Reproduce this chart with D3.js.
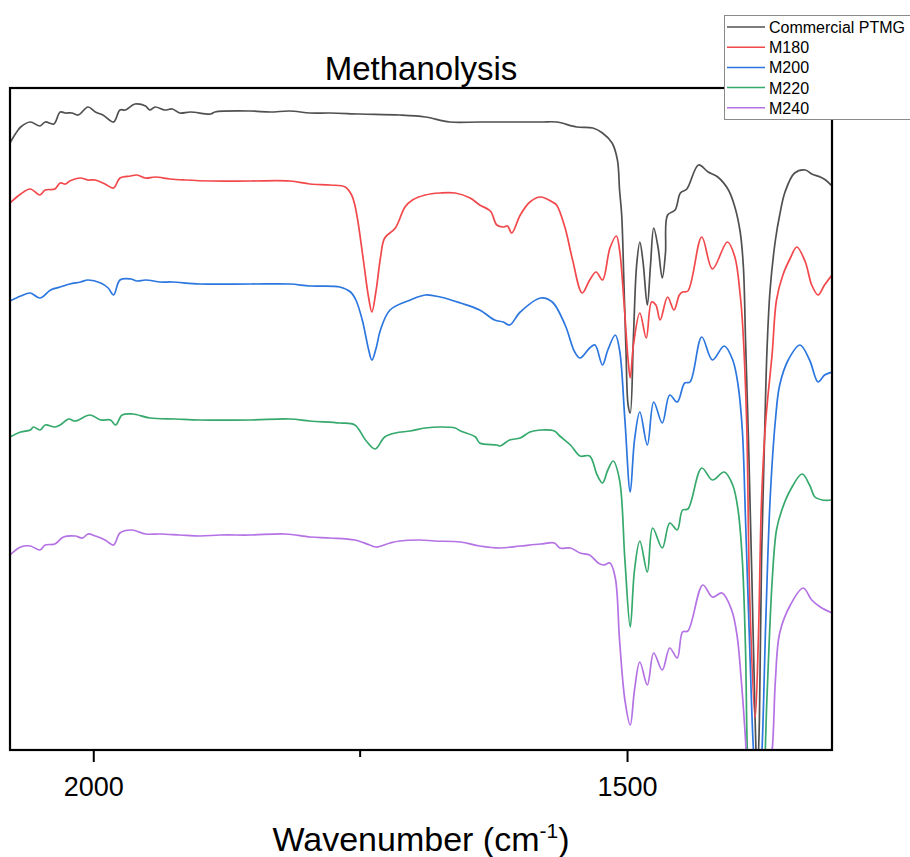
<!DOCTYPE html>
<html>
<head>
<meta charset="utf-8">
<script src="https://cdn.jsdelivr.net/npm/d3@7"></script>
<style>
    body { margin: 0; background: #fff; }
    text { font-family: Arial, "Liberation Sans", sans-serif; fill: #000; }
    .legendText { font-size: 16px; }
</style>
</head>
<body>
<script>
// offset transmittance (a.u.), [wavenumber, value]
var ptmg = [[2078, 60.7], [2073, 61.6], [2068, 62.3], [2059, 62.8], [2050, 62.4], [2045, 62.8], [2037, 62.6],
    [2031, 63.8], [2026, 63.7], [2020, 63.7], [2014, 63.5], [2005, 64.3], [1998, 63.8], [1991, 63.5], [1981, 62.8],
    [1975, 64.0], [1970, 64.0], [1961, 64.6], [1951, 64.4], [1947, 64.0], [1942, 64.3], [1933, 64.0], [1926, 64.1],
    [1919, 63.7], [1909, 63.8], [1890, 63.6], [1886, 63.8], [1853, 63.9], [1834, 63.8], [1816, 63.9], [1797, 63.7],
    [1778, 63.7], [1750, 63.6], [1713, 63.5], [1689, 63.3], [1666, 62.8], [1638, 62.8], [1581, 62.8], [1566, 62.8],
    [1547, 62.3], [1532, 62.2], [1523, 61.7], [1514, 60.7], [1509, 59.0], [1507, 56.0], [1505, 53.5], [1503, 47.0],
    [1501, 40.0], [1499, 34.5], [1497, 33.7], [1494, 41.3], [1491, 48.5], [1488, 50.8], [1485, 48.8], [1481, 44.5],
    [1478, 48.5], [1475, 52.2], [1471, 50.3], [1467, 47.2], [1464, 49.7], [1462, 53.5], [1455, 54.0], [1450, 55.7],
    [1444, 56.1], [1433, 58.5], [1424, 57.8], [1415, 57.3], [1405, 56.0], [1399, 54.3], [1394, 51.8], [1391, 48.3],
    [1389, 41.0], [1386, 30.0], [1383, 17.0], [1380, 3.0], [1378, -3.0], [1376, 3.0], [1374, 19.0], [1371, 32.0],
    [1369, 39.7], [1366, 46.0], [1361, 51.0], [1357, 53.5], [1352, 55.8], [1343, 57.7], [1333, 58.0], [1327, 57.6],
    [1319, 57.3], [1314, 57.0], [1308, 56.4]];

var m180 = [[2078, 54.7], [2068, 55.6], [2059, 56.1], [2050, 55.5], [2045, 56.0], [2036, 56.1], [2031, 56.7],
    [2026, 56.6], [2022, 56.9], [2012, 57.2], [2005, 57.0], [1998, 57.0], [1989, 56.6], [1981, 56.2], [1975, 57.2],
    [1965, 57.4], [1959, 57.5], [1951, 57.2], [1942, 57.3], [1928, 57.1], [1914, 57.0], [1890, 56.9], [1853, 56.9],
    [1816, 56.9], [1797, 56.6], [1778, 56.5], [1764, 56.3], [1758, 55.5], [1755, 54.5], [1752, 52.8], [1747, 49.0],
    [1742, 45.2], [1739, 43.8], [1735, 46.0], [1731, 49.2], [1727, 51.2], [1717, 52.2], [1708, 54.3], [1701, 55.0],
    [1689, 55.5], [1675, 55.7], [1661, 55.7], [1647, 55.2], [1638, 54.5], [1628, 53.9], [1622, 52.5], [1616, 52.3],
    [1612, 52.4], [1608, 51.7], [1600, 53.5], [1591, 54.8], [1581, 55.3], [1570, 54.8], [1566, 54.5], [1558, 52.2],
    [1551, 49.0], [1542, 45.7], [1535, 47.0], [1529, 47.8], [1523, 47.0], [1516, 50.2], [1510, 51.4], [1507, 50.0],
    [1503, 45.0], [1499, 39.0], [1497, 37.2], [1494, 40.5], [1488, 43.7], [1482, 41.2], [1477, 44.8], [1473, 44.5],
    [1469, 43.0], [1462, 45.3], [1456, 44.0], [1451, 45.5], [1448, 45.8], [1443, 45.9], [1430, 51.3], [1420, 48.1],
    [1406, 50.8], [1399, 49.3], [1394, 45.5], [1392, 43.0], [1388, 33.0], [1385, 15.0], [1380, 3.2], [1377, 11.0],
    [1374, 25.0], [1370, 33.0], [1364, 39.7], [1360, 45.0], [1354, 47.5], [1347, 49.2], [1341, 50.3], [1333, 48.8],
    [1327, 46.5], [1321, 45.5], [1315, 46.5], [1308, 47.5]];

var m200 = [[2078, 44.9], [2068, 45.4], [2059, 45.7], [2050, 45.2], [2040, 46.0], [2031, 46.3], [2022, 46.6],
    [2012, 46.8], [2005, 47.0], [1993, 46.7], [1986, 46.2], [1981, 45.5], [1975, 47.0], [1965, 47.1], [1959, 46.9],
    [1951, 47.0], [1937, 46.8], [1926, 46.8], [1900, 46.6], [1853, 46.6], [1816, 46.6], [1797, 46.4], [1769, 46.3],
    [1759, 45.8], [1754, 45.0], [1748, 43.0], [1742, 40.0], [1739, 39.0], [1735, 40.2], [1731, 42.0], [1722, 44.0],
    [1703, 45.0], [1689, 45.5], [1675, 45.3], [1656, 44.7], [1638, 44.0], [1624, 43.0], [1616, 42.8], [1610, 42.5],
    [1600, 43.8], [1581, 45.2], [1570, 44.8], [1558, 42.5], [1549, 39.8], [1544, 39.2], [1535, 40.2], [1530, 40.5],
    [1523, 38.5], [1518, 40.0], [1511, 41.5], [1507, 40.0], [1502, 33.0], [1497, 25.8], [1493, 31.0], [1488, 33.8],
    [1481, 30.5], [1475, 34.8], [1467, 32.7], [1460, 35.5], [1453, 34.8], [1446, 36.7], [1441, 36.8], [1430, 41.3],
    [1420, 39.0], [1409, 40.4], [1401, 39.0], [1396, 36.5], [1392, 32.0], [1389, 23.0], [1385, 10.0], [1381, -1.0],
    [1377, -5.0], [1374, -1.0], [1370, 13.0], [1366, 25.0], [1361, 33.0], [1357, 36.5], [1349, 39.0], [1338, 40.5],
    [1329, 39.0], [1321, 36.8], [1315, 37.5], [1308, 37.8]];

var m220 = [[2078, 31.3], [2068, 31.8], [2059, 32.0], [2056, 32.3], [2050, 32.0], [2045, 32.5], [2036, 32.3],
    [2031, 32.5], [2023, 33.1], [2017, 32.9], [2003, 33.5], [1993, 33.0], [1984, 33.0], [1979, 32.5], [1973, 33.5],
    [1963, 33.6], [1947, 33.2], [1923, 33.1], [1900, 33.0], [1853, 33.0], [1816, 33.1], [1797, 32.9], [1769, 32.7],
    [1755, 32.5], [1745, 31.0], [1736, 30.1], [1727, 31.3], [1717, 31.7], [1703, 31.9], [1689, 32.2], [1675, 32.3],
    [1661, 32.2], [1656, 31.9], [1642, 31.3], [1638, 30.7], [1622, 30.5], [1619, 30.4], [1610, 31.0], [1600, 31.2],
    [1591, 31.8], [1581, 32.0], [1568, 31.9], [1563, 31.4], [1553, 30.5], [1544, 29.4], [1535, 29.4], [1528, 27.5],
    [1523, 26.7], [1518, 28.0], [1513, 28.9], [1507, 27.0], [1502, 19.0], [1497, 12.3], [1493, 18.0], [1488, 20.9],
    [1481, 17.8], [1476, 22.2], [1467, 20.2], [1460, 22.7], [1453, 22.0], [1448, 24.0], [1443, 24.1], [1430, 28.2],
    [1420, 27.0], [1409, 27.8], [1401, 26.5], [1396, 24.0], [1392, 19.0], [1389, 10.0], [1387, -1.0], [1382, -9.0],
    [1377, -11.0], [1373, -7.0], [1369, 5.0], [1364, 17.0], [1360, 22.0], [1355, 24.0], [1347, 26.0], [1336, 27.6],
    [1329, 26.5], [1324, 25.3], [1317, 25.0], [1308, 25.0]];

var m240 = [[2078, 19.5], [2068, 20.3], [2059, 20.4], [2050, 20.0], [2045, 20.5], [2036, 20.6], [2028, 21.3],
    [2017, 21.4], [2010, 21.2], [2005, 21.6], [1998, 21.4], [1989, 21.0], [1981, 20.5], [1975, 21.7], [1964, 22.0],
    [1951, 21.6], [1937, 21.6], [1919, 21.5], [1900, 21.4], [1881, 21.5], [1853, 21.5], [1820, 21.6], [1797, 21.3],
    [1778, 21.2], [1755, 21.0], [1741, 20.5], [1735, 20.3], [1722, 20.7], [1713, 20.9], [1694, 21.0], [1680, 20.9],
    [1656, 20.8], [1638, 20.4], [1619, 20.2], [1600, 20.4], [1581, 20.6], [1568, 20.7], [1563, 20.2], [1553, 20.2],
    [1544, 19.7], [1535, 19.5], [1527, 18.7], [1522, 18.5], [1516, 18.7], [1511, 17.2], [1507, 11.0], [1502, 5.0],
    [1497, 2.5], [1493, 6.0], [1488, 8.8], [1481, 6.5], [1475, 9.7], [1467, 8.0], [1460, 10.2], [1453, 9.2],
    [1448, 11.8], [1443, 11.9], [1429, 16.5], [1420, 15.3], [1411, 15.7], [1402, 14.0], [1397, 11.5], [1393, 7.0],
    [1389, 1.0], [1385, -7.0], [1377, -11.0], [1370, -5.0], [1364, 0.0], [1361, 7.0], [1357, 11.7], [1347, 14.5],
    [1335, 16.2], [1327, 15.0], [1319, 14.3], [1308, 13.7]];

var seriesNames = ['Commercial PTMG', 'M180', 'M200', 'M220', 'M240'];
var seriesColours = ['#505050', '#f2484b', '#2b76df', '#36a96c', '#b472e4'];
var seriesData = [ptmg, m180, m200, m220, m240];
var majorTicks = [2000, 1500];
var minorTicks = [1750];

function canvas() {

    var svg = d3.select("body").append("svg")
        .attr("width", 910)
        .attr("height", 857);

    const plot = { left: 10, right: 832, top: 88, bottom: 750 };

    var x = d3.scaleLinear()
        .domain([2078, 1308])
        .range([plot.left, plot.right]);

    var y = d3.scaleLinear()
        .domain([0, 66.2])
        .range([plot.bottom, plot.top]);

    svg.append('clipPath')
        .attr('id', 'plotClip')
        .append('rect')
        .attr('x', plot.left)
        .attr('y', plot.top)
        .attr('width', plot.right - plot.left)
        .attr('height', plot.bottom - plot.top);

    var line = d3.line()
        .x(d => x(d[0]))
        .y(d => y(d[1]))
        .curve(d3.curveCatmullRom.alpha(0.5));

    svg.append('g') // the spectra
        .attr('clip-path', 'url(#plotClip)')
        .selectAll('path')
        .data(seriesData)
        .enter()
        .append('path')
        .attr('d', d => line(d))
        .attr('fill', 'none')
        .attr('stroke', (d, i) => seriesColours[i])
        .attr('stroke-width', 1.7)
        .attr('stroke-linejoin', 'round');

    // bottom axis, major and minor ticks outward
    var xAxis = d3.axisBottom(x)
        .tickValues(majorTicks)
        .tickSize(12)
        .tickPadding(10)
        .tickFormat(d3.format('d'));

    var axisG = svg.append('g')
        .attr('transform', `translate(0, ${plot.bottom})`)
        .call(xAxis);
    axisG.select('.domain').remove();
    axisG.selectAll('.tick line').attr('stroke', '#000').attr('stroke-width', 2);
    axisG.selectAll('.tick text')
        .attr('y', 46)
        .attr('dy', 0)
        .style('font-size', '27px')
        .style('font-family', 'Arial, "Liberation Sans", sans-serif');

    svg.append('g')
        .selectAll('line')
        .data(minorTicks)
        .enter()
        .append('line')
        .attr('x1', d => x(d))
        .attr('x2', d => x(d))
        .attr('y1', plot.bottom)
        .attr('y2', plot.bottom + 7)
        .attr('stroke', '#000')
        .attr('stroke-width', 2);

    svg.append('rect') // frame
        .attr('x', plot.left)
        .attr('y', plot.top)
        .attr('width', plot.right - plot.left)
        .attr('height', plot.bottom - plot.top)
        .attr('fill', 'none')
        .attr('stroke', '#000')
        .attr('stroke-width', 2.2);

    svg.append('text')
        .attr('x', (plot.left + plot.right) / 2)
        .attr('y', 80)
        .style('text-anchor', 'middle')
        .style('font-size', '33px')
        .text('Methanolysis');

    var xTitle = svg.append('text')
        .attr('x', (plot.left + plot.right) / 2)
        .attr('y', 851)
        .style('text-anchor', 'middle')
        .style('font-size', '34px');
    xTitle.append('tspan').text('Wavenumber (cm');
    xTitle.append('tspan').attr('dy', -13).style('font-size', '21px').text('-1');
    xTitle.append('tspan').attr('dy', 13).text(')');

    // legend
    var legend = svg.append('g');
    legend.append('rect')
        .attr('x', 724.5)
        .attr('y', 15.5)
        .attr('width', 200)
        .attr('height', 104)
        .attr('fill', '#fff')
        .attr('stroke', '#8a8a8a')
        .attr('stroke-width', 1);

    var rows = legend.selectAll('g.row')
        .data(seriesNames)
        .enter()
        .append('g')
        .attr('class', 'row')
        .attr('transform', (d, i) => `translate(0, ${27 + i * 20.2})`);

    rows.append('line')
        .attr('x1', 727)
        .attr('x2', 765)
        .attr('stroke', (d, i) => seriesColours[i])
        .attr('stroke-width', 1.5);

    rows.append('text')
        .attr('class', 'legendText')
        .attr('x', 769)
        .attr('y', 6)
        .text(d => d);
}

canvas();
</script>
</body>
</html>
